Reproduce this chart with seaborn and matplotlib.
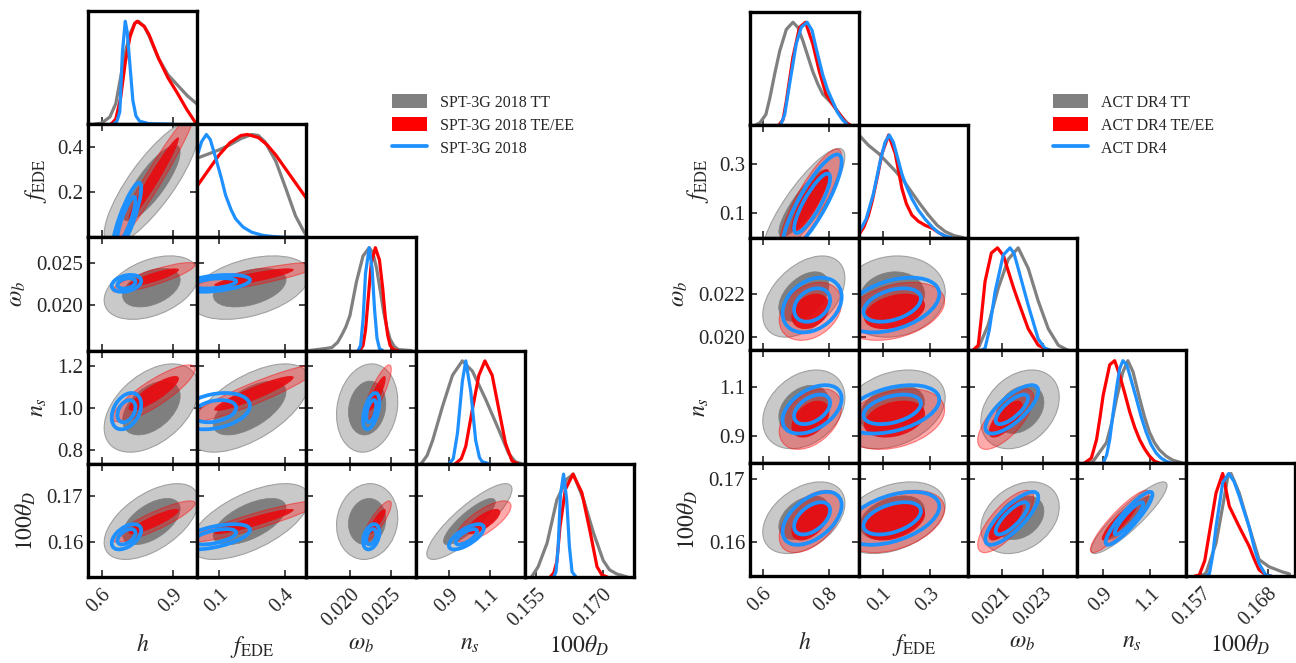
import numpy as np
import pandas as pd
import matplotlib
matplotlib.use("Agg")
import matplotlib.pyplot as plt
import seaborn as sns
from matplotlib.patches import Ellipse, Patch
from matplotlib.lines import Line2D

# ------------------------------------------------------------------
# Parameters (shared)
# ------------------------------------------------------------------
param_labels = [r"$h$", r"$f_{\rm EDE}$", r"$\omega_b$", r"$n_s$", r"$100\theta_D$"]
pair_order = [(0, 1), (0, 2), (0, 3), (0, 4), (1, 2), (1, 3), (1, 4), (2, 3), (2, 4), (3, 4)]

# ------------------------------------------------------------------
# SPT-3G 2018 (left triangle)
# ------------------------------------------------------------------
spt_names = ["SPT-3G 2018 TT", "SPT-3G 2018 TE/EE", "SPT-3G 2018"]
spt_limits = [(0.543, 1.003), (0.0, 0.5), (0.0147, 0.0280), (0.733, 1.275), (0.1525, 0.177)]
spt_xticks = [[0.6, 0.9], [0.1, 0.4], [0.020, 0.025], [0.9, 1.1], [0.155, 0.170]]
spt_xticklabels = [["0.6", "0.9"], ["0.1", "0.4"], ["0.020", "0.025"], ["0.9", "1.1"], ["0.155", "0.170"]]
spt_yticks = [[], [0.2, 0.4], [0.020, 0.025], [0.8, 1.0, 1.2], [0.16, 0.17]]
spt_yticklabels = [[], ["0.2", "0.4"], ["0.020", "0.025"], ["0.8", "1.0", "1.2"], ["0.16", "0.17"]]

# 1D marginals (x values, normalised heights)
spt_tt_1d = {
    0: ([0.57, 0.60, 0.635, 0.66, 0.68, 0.70, 0.72, 0.74, 0.755, 0.78, 0.80, 0.84, 0.88, 0.92, 0.96, 1.0],
        [0, 0.01, 0.07, 0.2, 0.45, 0.7, 0.88, 0.98, 1.0, 0.95, 0.86, 0.64, 0.48, 0.38, 0.28, 0.2]),
    1: ([0.0, 0.05, 0.1, 0.15, 0.2, 0.25, 0.28, 0.31, 0.36, 0.405, 0.45, 0.49, 0.5],
        [0.77, 0.81, 0.85, 0.9, 0.96, 1.0, 0.99, 0.93, 0.74, 0.48, 0.21, 0.05, 0.02]),
    2: ([0.0150, 0.0170, 0.0178, 0.0185, 0.0190, 0.0195, 0.0200, 0.0208, 0.0216, 0.02235, 0.0228, 0.02325,
         0.0237, 0.0241, 0.0245, 0.0249, 0.0254, 0.0259, 0.0275],
        [0, 0.02, 0.03, 0.08, 0.15, 0.23, 0.34, 0.67, 0.92, 1.0, 0.95, 0.8, 0.58, 0.38, 0.22, 0.11, 0.04, 0.01, 0]),
    3: ([0.76, 0.79, 0.818, 0.867, 0.916, 0.965, 1.015, 1.08, 1.146, 1.195, 1.228, 1.26],
        [0, 0.08, 0.23, 0.56, 0.86, 1.0, 0.9, 0.63, 0.33, 0.1, 0.02, 0]),
    4: ([0.1540, 0.1555, 0.1575, 0.1597, 0.1619, 0.1634, 0.1657, 0.1679, 0.1701, 0.1715, 0.1731, 0.1755],
        [0, 0.1, 0.33, 0.75, 0.95, 1.0, 0.75, 0.43, 0.16, 0.07, 0.03, 0]),
}
spt_te_1d = {
    0: ([0.64, 0.66, 0.68, 0.70, 0.72, 0.74, 0.75, 0.78, 0.80, 0.84, 0.88, 0.92, 0.96, 1.0],
        [0, 0.05, 0.25, 0.6, 0.85, 0.98, 1.0, 0.95, 0.87, 0.64, 0.45, 0.3, 0.14, 0.0]),
    1: ([0.0, 0.05, 0.1, 0.15, 0.2, 0.23, 0.28, 0.32, 0.36, 0.4, 0.45, 0.5],
        [0.5, 0.65, 0.8, 0.92, 0.99, 1.0, 0.97, 0.9, 0.8, 0.68, 0.53, 0.38]),
    2: ([0.0212, 0.0216, 0.0219, 0.0222, 0.0226, 0.0231, 0.0236, 0.0240, 0.0243, 0.0246, 0.0249, 0.0253, 0.0258],
        [0, 0.05, 0.2, 0.48, 0.85, 1.0, 0.88, 0.6, 0.33, 0.15, 0.05, 0.01, 0]),
    3: ([0.93, 0.96, 0.982, 1.015, 1.047, 1.077, 1.113, 1.146, 1.179, 1.211, 1.24],
        [0, 0.05, 0.17, 0.53, 0.86, 1.0, 0.86, 0.53, 0.2, 0.03, 0]),
    4: ([0.1582, 0.1590, 0.1597, 0.1604, 0.1616, 0.1633, 0.1653, 0.1672, 0.1687, 0.1698, 0.1710],
        [0, 0.04, 0.15, 0.49, 0.85, 1.0, 0.82, 0.43, 0.1, 0.02, 0]),
}
spt_all_1d = {
    0: ([0.65, 0.665, 0.677, 0.688, 0.700, 0.708, 0.718, 0.732, 0.745, 0.76, 0.80, 0.90],
        [0, 0.03, 0.12, 0.7, 1.0, 0.9, 0.62, 0.23, 0.08, 0.03, 0.005, 0]),
    1: ([0.0, 0.02, 0.042, 0.06, 0.085, 0.11, 0.13, 0.155, 0.176, 0.21, 0.25, 0.3, 0.34, 0.4, 0.5],
        [0.79, 0.93, 1.0, 0.95, 0.77, 0.58, 0.41, 0.27, 0.18, 0.1, 0.05, 0.02, 0.01, 0, 0]),
    2: ([0.0210, 0.0213, 0.0216, 0.0219, 0.02235, 0.0227, 0.0230, 0.0233, 0.0236, 0.0240],
        [0, 0.05, 0.3, 0.75, 1.0, 0.8, 0.4, 0.12, 0.02, 0]),
    3: ([0.90, 0.92, 0.941, 0.965, 0.982, 1.007, 1.031, 1.05, 1.064, 1.1],
        [0, 0.05, 0.3, 0.8, 1.0, 0.7, 0.23, 0.06, 0.02, 0]),
    4: ([0.1590, 0.1595, 0.1600, 0.1605, 0.1612, 0.1619, 0.1625, 0.1631, 0.1640],
        [0, 0.05, 0.3, 0.8, 1.0, 0.75, 0.3, 0.05, 0]),
}
# 2D contour summaries: centre, width, correlation (pair_order)
spt_tt_mean = [0.81, 0.24, 0.0221, 1.00, 0.1645]
spt_tt_sigma = [0.08, 0.11, 0.0015, 0.085, 0.0033]
spt_tt_rho = [0.82, 0.4, 0.45, 0.55, 0.4, 0.6, 0.6, 0.15, 0.1, 0.85]
spt_te_mean = [0.82, 0.26, 0.0233, 1.07, 0.1645]
spt_te_sigma = [0.07, 0.12, 0.0007, 0.055, 0.0018]
spt_te_rho = [0.97, 0.85, 0.85, 0.88, 0.85, 0.92, 0.92, 0.85, 0.85, 0.75]
spt_all_mean = [0.705, 0.08, 0.0226, 0.985, 0.1612]
spt_all_sigma = [0.025, 0.065, 0.0004, 0.035, 0.0011]
spt_all_rho = [0.85, 0.3, 0.35, 0.5, 0.4, 0.3, 0.55, 0.5, 0.35, 0.7]

# ------------------------------------------------------------------
# ACT DR4 (right triangle)
# ------------------------------------------------------------------
act_names = ["ACT DR4 TT", "ACT DR4 TE/EE", "ACT DR4"]
act_limits = [(0.562, 0.892), (0.0, 0.46), (0.01936, 0.02468), (0.789, 1.252), (0.1545, 0.1725)]
act_xticks = [[0.6, 0.8], [0.1, 0.3], [0.021, 0.023], [0.9, 1.1], [0.157, 0.168]]
act_xticklabels = [["0.6", "0.8"], ["0.1", "0.3"], ["0.021", "0.023"], ["0.9", "1.1"], ["0.157", "0.168"]]
act_yticks = [[], [0.1, 0.3], [0.020, 0.022], [0.9, 1.1], [0.16, 0.17]]
act_yticklabels = [[], ["0.1", "0.3"], ["0.020", "0.022"], ["0.9", "1.1"], ["0.16", "0.17"]]

act_tt_1d = {
    0: ([0.58, 0.592, 0.61, 0.622, 0.637, 0.652, 0.672, 0.692, 0.707, 0.722, 0.737, 0.752, 0.767, 0.782,
         0.812, 0.827, 0.842, 0.862],
        [0, 0.02, 0.1, 0.26, 0.5, 0.72, 0.93, 1.0, 0.95, 0.82, 0.67, 0.52, 0.4, 0.3, 0.2, 0.13, 0.07, 0]),
    1: ([0.0, 0.04, 0.083, 0.12, 0.153, 0.19, 0.223, 0.26, 0.293, 0.33, 0.363, 0.40, 0.44],
        [1.0, 0.9, 0.82, 0.73, 0.65, 0.55, 0.44, 0.32, 0.22, 0.12, 0.06, 0.02, 0.0]),
    2: ([0.0196, 0.01986, 0.02035, 0.02084, 0.02133, 0.02181, 0.0223, 0.02279, 0.02328, 0.02377, 0.02425],
        [0, 0.02, 0.25, 0.61, 0.89, 1.0, 0.8, 0.48, 0.21, 0.05, 0]),
    3: ([0.84, 0.858, 0.914, 0.935, 0.957, 0.984, 1.005, 1.027, 1.055, 1.076, 1.097, 1.118, 1.139, 1.167,
         1.195, 1.24],
        [0, 0.02, 0.2, 0.38, 0.63, 0.89, 1.0, 0.89, 0.63, 0.45, 0.3, 0.2, 0.13, 0.07, 0.03, 0]),
    4: ([0.1570, 0.15782, 0.15946, 0.16056, 0.16138, 0.16193, 0.16329, 0.16493, 0.16657, 0.16822, 0.17042,
         0.1716],
        [0, 0.03, 0.32, 0.68, 0.96, 1.0, 0.81, 0.48, 0.16, 0.09, 0.04, 0.02]),
}
act_te_1d = {
    0: ([0.65, 0.662, 0.672, 0.692, 0.712, 0.730, 0.752, 0.772, 0.792, 0.812, 0.832, 0.852, 0.865],
        [0, 0.05, 0.23, 0.66, 0.95, 1.0, 0.79, 0.52, 0.3, 0.2, 0.11, 0.02, 0]),
    1: ([0.0, 0.02, 0.04, 0.055, 0.08, 0.097, 0.125, 0.153, 0.167, 0.181, 0.2, 0.223, 0.25, 0.279, 0.31,
         0.335, 0.377],
        [0.03, 0.1, 0.22, 0.35, 0.62, 0.82, 1.0, 0.82, 0.65, 0.48, 0.33, 0.22, 0.16, 0.12, 0.09, 0.05, 0.0]),
    2: ([0.0196, 0.01986, 0.0200, 0.02019, 0.0205, 0.0208, 0.0211, 0.02133, 0.0216, 0.02181, 0.0223,
         0.02279, 0.0233],
        [0, 0.05, 0.3, 0.67, 0.95, 1.0, 0.92, 0.77, 0.6, 0.48, 0.21, 0.05, 0]),
    3: ([0.82, 0.85, 0.872, 0.887, 0.9, 0.928, 0.949, 0.97, 0.992, 1.013, 1.034, 1.055, 1.076, 1.097,
         1.118, 1.14],
        [0, 0.05, 0.23, 0.45, 0.66, 0.96, 1.0, 0.86, 0.68, 0.5, 0.35, 0.23, 0.14, 0.07, 0.02, 0]),
    4: ([0.1560, 0.1567, 0.1576, 0.15836, 0.15946, 0.16056, 0.16165, 0.16329, 0.16493, 0.1658, 0.16657,
         0.16767, 0.1685],
        [0, 0.01, 0.15, 0.42, 0.81, 1.0, 0.68, 0.48, 0.29, 0.16, 0.06, 0.01, 0]),
}
act_all_1d = {
    0: ([0.655, 0.667, 0.682, 0.702, 0.717, 0.735, 0.750, 0.762, 0.782, 0.797, 0.812, 0.827, 0.842, 0.857],
        [0, 0.1, 0.4, 0.79, 0.95, 1.0, 0.92, 0.75, 0.49, 0.34, 0.23, 0.12, 0.05, 0]),
    1: ([0.0, 0.03, 0.06, 0.09, 0.11, 0.128, 0.145, 0.165, 0.181, 0.2, 0.223, 0.25, 0.279, 0.31, 0.335,
         0.36, 0.39],
        [0.05, 0.18, 0.42, 0.75, 0.93, 1.0, 0.93, 0.76, 0.62, 0.5, 0.38, 0.27, 0.18, 0.1, 0.05, 0.02, 0]),
    2: ([0.0200, 0.02019, 0.0204, 0.02068, 0.02108, 0.02141, 0.0216, 0.02181, 0.0223, 0.02279, 0.02312,
         0.0234],
        [0, 0.02, 0.2, 0.57, 0.93, 1.0, 0.95, 0.8, 0.44, 0.11, 0.02, 0]),
    3: ([0.90, 0.915, 0.928, 0.943, 0.957, 0.97, 0.984, 1.0, 1.013, 1.041, 1.062, 1.083, 1.104, 1.125,
         1.146, 1.167, 1.19],
        [0, 0.08, 0.23, 0.5, 0.73, 0.92, 1.0, 0.96, 0.86, 0.63, 0.45, 0.3, 0.18, 0.1, 0.05, 0.02, 0]),
    4: ([0.1578, 0.15836, 0.1589, 0.15946, 0.16056, 0.16155, 0.16245, 0.16329, 0.1641, 0.16493, 0.16575,
         0.16657, 0.16767, 0.1685],
        [0, 0.02, 0.2, 0.48, 0.91, 1.0, 0.92, 0.78, 0.63, 0.48, 0.28, 0.12, 0.01, 0]),
}
act_tt_mean = [0.725, 0.14, 0.0219, 1.01, 0.1638]
act_tt_sigma = [0.05, 0.09, 0.00077, 0.065, 0.0023]
act_tt_rho = [0.85, 0.45, 0.3, 0.4, 0.1, 0.3, 0.35, 0.3, 0.3, 0.9]
act_te_mean = [0.745, 0.15, 0.0212, 0.97, 0.1632]
act_te_sigma = [0.038, 0.085, 0.00055, 0.05, 0.002]
act_te_rho = [0.85, 0.3, 0.4, 0.5, 0.35, 0.3, 0.4, 0.7, 0.75, 0.9]
act_all_mean = [0.75, 0.14, 0.0215, 1.01, 0.1637]
act_all_sigma = [0.036, 0.08, 0.00052, 0.04, 0.0017]
act_all_rho = [0.85, 0.3, 0.45, 0.5, 0.4, 0.4, 0.45, 0.75, 0.8, 0.9]

# ------------------------------------------------------------------
# Styling
# ------------------------------------------------------------------
sns.set_style("white")
plt.rcParams["font.family"] = ["Liberation Serif", "DejaVu Serif"]
plt.rcParams["mathtext.fontset"] = "stix"

W, H = 1296, 663
GRAY, RED, BLUE = "#808080", "#ff0000", "#1e90ff"
CHI2_95, CHI2_68 = 6.18, 2.30
TICK_FS, LABEL_FS = 15, 17

styles = [
    # (95% kwargs, 68% kwargs, line colour)
    (dict(fc="#c9c9c9", ec="#a0a0a0", lw=0.8), dict(fc="#7f7f7f", ec="#7f7f7f", lw=0.5), GRAY),
    (dict(fc=(1, 0, 0, 0.33), ec=(1, 0, 0, 0.45), lw=0.8), dict(fc=(0.91, 0.04, 0.06, 0.9), ec="none", lw=0), RED),
    (dict(fc="none", ec=BLUE, lw=2.7), dict(fc="none", ec=BLUE, lw=2.7), BLUE),
]


def add_ellipse(ax, mx, my, sx, sy, r, chi2, kw):
    cov = np.array([[sx * sx, r * sx * sy], [r * sx * sy, sy * sy]])
    vals, vecs = np.linalg.eigh(cov)
    big = vecs[:, 1]
    angle = np.degrees(np.arctan2(big[1], big[0]))
    e = Ellipse((mx, my), width=2 * np.sqrt(chi2 * vals[1]), height=2 * np.sqrt(chi2 * vals[0]),
                angle=angle, **kw)
    ax.add_patch(e)


def style_axes(ax):
    for s in ax.spines.values():
        s.set_linewidth(2.4)
        s.set_color("black")
        s.set_visible(True)


def draw_triangle(x0, y0, cw, rh, limits, xticks, xticklabels, yticks, yticklabels,
                  curves, means, sigmas, rhos):
    for i in range(5):
        for j in range(i + 1):
            left = x0 + j * cw
            bottom = H - (y0 + (i + 1) * rh)
            ax = fig.add_axes([left / W, bottom / H, cw / W, rh / H])
            ax.set_facecolor("white")
            if i == j:
                for k in range(3):
                    xs, ys = curves[k][i]
                    sns.lineplot(x=xs, y=ys, ax=ax, color=styles[k][2], linewidth=2.3,
                                 estimator=None, sort=False, legend=False)
                ax.set_xlim(*limits[i])
                ax.set_ylim(0, 1.1)
                ax.set_yticks([])
                ax.set_xticks(xticks[i])
                ax.tick_params(axis="x", direction="in", length=5, width=1.2,
                               bottom=True, top=False, labelbottom=(i == 4))
            else:
                pidx = pair_order.index((j, i))
                for k in range(3):
                    m, s, r = means[k], sigmas[k], rhos[k][pidx]
                    kw95, kw68, _ = styles[k]
                    add_ellipse(ax, m[j], m[i], s[j], s[i], r, CHI2_95, kw95)
                    add_ellipse(ax, m[j], m[i], s[j], s[i], r, CHI2_68, kw68)
                ax.set_xlim(*limits[j])
                ax.set_ylim(*limits[i])
                ax.set_xticks(xticks[j])
                ax.set_yticks(yticks[i])
                ax.tick_params(direction="in", length=5, width=1.2, top=True, right=True,
                               bottom=True, left=True, labelbottom=(i == 4), labelleft=(j == 0))
                if j == 0:
                    ax.set_yticklabels(yticklabels[i], fontsize=TICK_FS)
                    ax.set_ylabel(param_labels[i], fontsize=LABEL_FS, labelpad=6)
            if i == 4:
                col = j
                ax.set_xticklabels(xticklabels[col], fontsize=TICK_FS - 0.5, rotation=45,
                                   ha="right", va="top", rotation_mode="anchor")
                ax.tick_params(axis="x", pad=6)
                ax.set_xlabel(param_labels[col], fontsize=LABEL_FS)
                ax.xaxis.set_label_coords(0.5, -0.5)
            style_axes(ax)


fig = plt.figure(figsize=(W / 100, H / 100), dpi=100)

draw_triangle(88, 11, 109.2, 113.2, spt_limits, spt_xticks, spt_xticklabels, spt_yticks, spt_yticklabels,
              [spt_tt_1d, spt_te_1d, spt_all_1d],
              [spt_tt_mean, spt_te_mean, spt_all_mean],
              [spt_tt_sigma, spt_te_sigma, spt_all_sigma],
              [spt_tt_rho, spt_te_rho, spt_all_rho])
draw_triangle(750, 12, 109.0, 112.8, act_limits, act_xticks, act_xticklabels, act_yticks, act_yticklabels,
              [act_tt_1d, act_te_1d, act_all_1d],
              [act_tt_mean, act_te_mean, act_all_mean],
              [act_tt_sigma, act_te_sigma, act_all_sigma],
              [act_tt_rho, act_te_rho, act_all_rho])


def legend_handles():
    return [Patch(facecolor=GRAY, edgecolor="none"),
            Patch(facecolor=RED, edgecolor="none"),
            Line2D([0], [0], color=BLUE, lw=2.7)]


for names, xpix in ((spt_names, 392), (act_names, 1053)):
    fig.legend(legend_handles(), names, loc="upper left", bbox_to_anchor=(xpix / W, 1 - 94 / H),
               frameon=False, fontsize=11.5, borderpad=0, borderaxespad=0, handlelength=2.2,
               handleheight=1.0, handletextpad=0.8, labelspacing=0.4)

fig.savefig("out.png", dpi=100)
